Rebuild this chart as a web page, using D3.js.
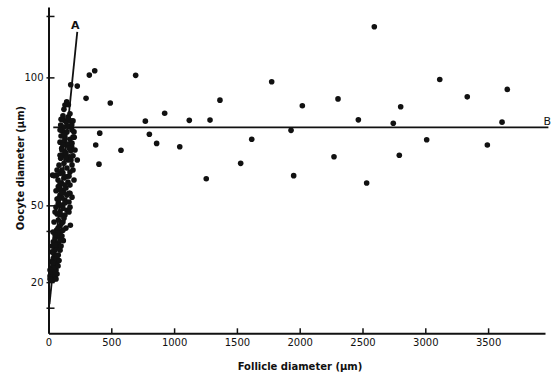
<!DOCTYPE html>
<html>
<head>
<meta charset="utf-8">
<script src="https://cdn.jsdelivr.net/npm/d3@7"></script>
<style>
  body { margin: 0; background: #fff; }
  svg text { font-family: "DejaVu Sans", sans-serif; fill: #111; }
</style>
</head>
<body>
<div class="chart"></div>
<script>
// Small follicles: the dense band along line A (follicle um, oocyte um)
const smallFollicle = [145,131,123,118,139,177,97,166,185,110,203,131,171,118,145,185,105,131,177,113,166,158,158,
  97,123,65,92,139,105,78,118,171,92,131,78,113,92,131,78,105,65,97,52,86,118,65,52,
  38,78,52,78,38,65,33,60,25,52,25,
  155,187,147,107,171,123,155,76,139,92,147,107,163,68,115,147,60,100,68,123,44,92,139,76,36,107,
  68,28,92,44,60,20,84,44,12,68,36,12,36,60,
  147,100,155,92,123,195,139,107,195,84,171,203,60,123,163,187,195,155,195,100,147,123,187,46,33,
  177,229,205,229,174,163,
  115,163,211,92,139,179,68,115,163,92,131,107,84,131,171,
  92,52,115,76,115,52,92,52,100,28,68,36,76,28,52,12,
  115,171,92,187];
const smallOocyte = [90.5,89.2,87.5,83.3,82.7,83.0,81.4,80.7,81.4,79.1,78.7,76.2,75.8,74.8,73.6,72.9,72.3,70.9,71.3,69.6,69.0,89.3,84.6,
  68.4,66.4,61.8,62.5,61.2,58.6,57.3,56.0,54.7,54.0,52.1,50.8,50.1,47.5,46.2,44.3,43.0,40.3,39.7,37.1,37.7,36.2,35.2,33.2,
  35.8,35.2,32.5,30.6,29.3,27.3,26.0,24.7,23.4,22.1,20.8,
  67.7,65.8,64.6,63.8,63.0,60.7,59.1,59.9,56.8,56.0,54.0,52.9,51.3,52.5,48.9,48.1,49.3,46.2,46.6,45.0,43.5,42.0,41.1,39.2,39.6,38.0,
  33.7,34.1,32.5,31.0,29.0,27.9,28.4,25.5,24.7,23.2,22.0,22.4,20.8,21.2,
  78.7,77.1,73.9,74.7,77.8,76.7,68.5,71.6,69.4,65.7,57.9,59.9,55.7,54.8,47.4,53.2,63.8,84.1,83.0,83.6,81.0,80.6,74.3,61.6,61.8,
  97.1,96.6,76.6,67.7,42.2,54.7,
  73.6,72.4,71.6,69.6,70.4,67.7,63.8,62.6,61.4,58.7,57.9,54.8,52.9,50.9,49.3,
  50.1,47.4,43.5,41.1,40.3,38.4,36.4,34.5,34.1,31.8,30.2,27.5,26.3,23.9,23.9,21.2,
  85.0,85.8,79.4,79.4];

// Large follicles: the scattered plateau points
const largeFollicle = [299,325,368,408,376,402,492,577,694,771,803,
  861,925,1045,1121,1256,1286,1365,1530,1618,1777,1931,1952,2021,2273,2305,2467,2533,2594,
  2745,2793,2804,3011,3115,3334,3494,3611,3653];
const largeOocyte = [91.8,100.9,102.6,78.2,73.6,66.1,90.0,71.5,100.8,82.9,77.8,
  74.2,86.0,72.9,83.2,60.4,83.3,91.1,66.4,75.8,98.3,79.3,61.6,88.9,69.0,91.6,83.4,58.7,119.8,
  82.1,69.6,88.5,75.6,99.2,92.4,73.6,82.5,95.3];

// Fitted lines
const lineA = [[8, 11.4], [229, 117.8]];
const lineB = [[38, 80.5], [3980, 80.5]];

const xTicks = [0, 500, 1000, 1500, 2000, 2500, 3000, 3500];
const yTicks = [10, 20, 40, 50, 100, 124];
const yTickLabels = [20, 50, 100];

const left_padding = 48.5;
const top_padding = 7;
const width = 496.5;
const height = 326.3;

const svg = d3.select(".chart").append("svg")
  .attr("width", 555)
  .attr("height", 380);
const g = svg.append("g").attr("transform", `translate(${left_padding},${top_padding})`);

const x = d3.scaleLinear().domain([0, 3953]).range([0, width]);
const y = d3.scaleLinear().domain([0, 127.5]).range([height, 0]);

// x-axis
const xaxis = g.append("g")
  .attr("transform", `translate(0,${height})`)
  .call(d3.axisBottom(x).tickValues(xTicks).tickFormat(d3.format("d"))
    .tickSize(-5).tickPadding(6).tickSizeOuter(0));
xaxis.select(".domain").attr("stroke", "#111").attr("stroke-width", 2);
xaxis.selectAll(".tick line").attr("stroke", "#111").attr("stroke-width", 1.5);
xaxis.selectAll("text").style("font-size", "10px").style("fill", "#111");

// y-axis
const yaxis = g.append("g")
  .call(d3.axisLeft(y).tickValues(yTicks).tickSize(-6).tickPadding(5).tickSizeOuter(0)
    .tickFormat(d => yTickLabels.indexOf(d) > -1 ? d : ""));
yaxis.select(".domain").attr("stroke", "#111").attr("stroke-width", 2);
yaxis.selectAll(".tick line").attr("stroke", "#111").attr("stroke-width", 1.5).attr("x1", -2);
yaxis.selectAll("text").style("font-size", "10px").style("fill", "#111");

// Axis labels
svg.append("text")
  .attr("transform", `translate(24,168) rotate(-90)`)
  .style("text-anchor", "middle")
  .style("font-size", "10px")
  .style("font-weight", "bold")
  .text("Oocyte diameter (\u00b5m)");
svg.append("text")
  .attr("x", 300)
  .attr("y", 370)
  .style("text-anchor", "middle")
  .style("font-size", "10px")
  .style("font-weight", "bold")
  .text("Follicle diameter (\u00b5m)");

// Lines A and B
const line = d3.line().x(d => x(d[0])).y(d => y(d[1]));
g.append("path").attr("d", line(lineA)).attr("stroke", "#111").attr("stroke-width", 1.8).attr("fill", "none");
g.append("path").attr("d", line(lineB)).attr("stroke", "#111").attr("stroke-width", 1.8).attr("fill", "none");

g.append("text")
  .attr("x", x(lineA[1][0]) - 2)
  .attr("y", y(lineA[1][1]) - 3)
  .style("text-anchor", "middle")
  .style("font-size", "11px")
  .style("font-weight", "bold")
  .text("A");
g.append("text")
  .attr("x", x(lineB[1][0]) - 1)
  .attr("y", y(lineB[1][1]) - 2)
  .style("text-anchor", "middle")
  .style("font-size", "11px")
  .text("B");

// Points
const points = [];
smallFollicle.forEach((f, i) => points.push([f, smallOocyte[i]]));
largeFollicle.forEach((f, i) => points.push([f, largeOocyte[i]]));
g.append("g").selectAll("circle")
  .data(points)
  .enter()
  .append("circle")
    .attr("cx", d => x(d[0]))
    .attr("cy", d => y(d[1]))
    .attr("r", 2.8)
    .attr("fill", "#111");
</script>
</body>
</html>
